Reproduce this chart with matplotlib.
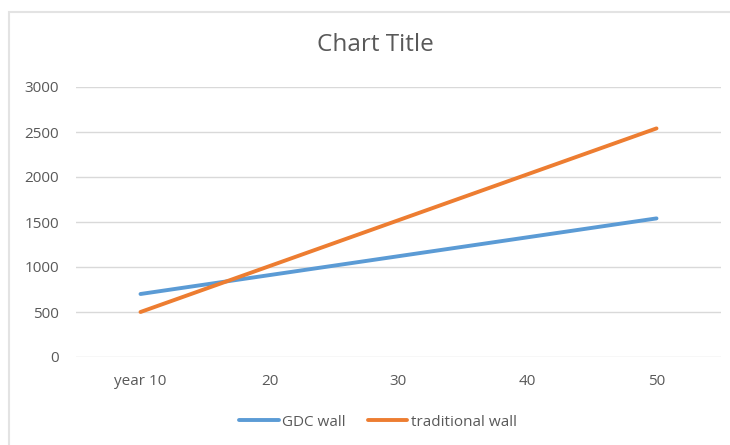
import matplotlib.pyplot as plt
from matplotlib.patches import Rectangle

plt.rcParams["font.family"] = ["Open Sans", "DejaVu Sans"]

years = ["year 10", "20", "30", "40", "50"]
gdc_wall = [700, 910, 1120, 1330, 1540]
traditional_wall = [500, 1010, 1520, 2030, 2540]
y_ticks = [0, 500, 1000, 1500, 2000, 2500, 3000]

text_col = "#595959"
grid_col = "#D9D9D9"

fig = plt.figure(figsize=(7.3, 4.45), dpi=100)
# light chart-area frame (runs off the right/bottom edges as in the screenshot)
fig.patches.append(Rectangle((9 / 730, -0.1), 1.2, 1 - 12 / 445 + 0.1,
                             transform=fig.transFigure, fill=False,
                             edgecolor="#E3E3E3", linewidth=1.5))

ax = fig.add_axes([76 / 730, 88 / 445, 645 / 730, 270 / 445])
x = range(len(years))
ax.plot(x, gdc_wall, color="#5B9BD5", linewidth=2.8, label="GDC wall",
        solid_capstyle="round")
ax.plot(x, traditional_wall, color="#ED7D31", linewidth=2.8,
        label="traditional wall", solid_capstyle="round")

ax.set_xlim(-0.5, len(years) - 0.5)
ax.set_ylim(0, 3000)
ax.set_xticks(list(x))
ax.set_xticklabels(years)
ax.set_yticks(y_ticks)
ax.tick_params(length=0, colors=text_col, labelsize=11)
ax.tick_params(axis="x", pad=12)
ax.tick_params(axis="y", pad=12)
ax.grid(axis="y", color=grid_col, linewidth=1)
ax.set_axisbelow(True)
for s in ax.spines.values():
    s.set_visible(False)

fig.text(375 / 730, 1 - 45 / 445, "Chart Title", ha="center", va="center",
         fontsize=17.5, color=text_col)

fig.legend(loc="center", bbox_to_anchor=(378 / 730, 1 - 422 / 445), ncol=2,
           frameon=False, fontsize=11, labelcolor=text_col, handlelength=2.6,
           columnspacing=1.4, handletextpad=0.25)

fig.savefig("out.png", dpi=100)
